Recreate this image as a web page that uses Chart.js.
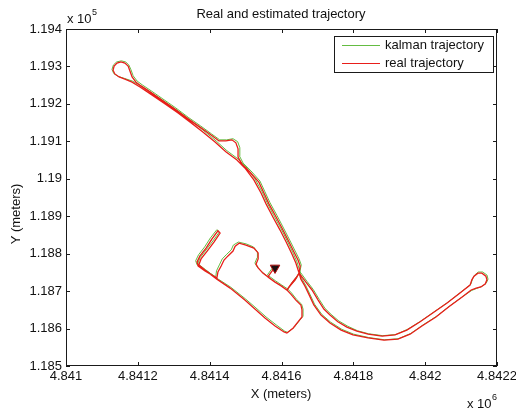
<!DOCTYPE html>
<html><head><meta charset="utf-8">
<script src="https://cdn.jsdelivr.net/npm/chart.js@4/dist/chart.umd.min.js"></script>
<style>html,body{margin:0;padding:0;background:#fff}#wrap{width:516px;height:410px;position:relative}</style>
</head><body><div id="wrap"><canvas id="c" width="516" height="410"></canvas></div>
<script>
// X in meters (axis shown x 10^6), Y in meters (axis shown x 10^5)
const xTicks=[4841000,4841200,4841400,4841600,4841800,4842000,4842200];
const yTicks=[118500,118600,118700,118800,118900,119000,119100,119200,119300,119400];

const realX=[4841582,4841574,4841562,4841548,4841535,4841529,4841535,4841535,4841523,4841501,4841482,4841471,4841465,4841451,4841440,4841432,4841423,4841420,
4841387,4841368,4841365,4841373,4841390,4841406,4841423,
4841429,4841412,4841393,4841376,4841370,4841390,4841420,
4841457,4841498,4841526,4841554,4841582,4841607,4841615,
4841632,4841646,4841657,4841657,4841654,4841640,4841626,4841615,
4841629,4841640,4841649,
4841652,4841646,4841635,4841621,4841604,4841585,4841565,4841551,4841537,4841512,4841490,4841479,4841479,4841473,4841462,4841445,4841426,4841404,4841373,4841340,4841303,4841267,4841234,4841209,
4841195,4841184,4841178,4841173,4841164,4841153,4841142,4841134,4841131,4841136,4841148,4841164,4841184,
4841206,4841239,4841276,4841312,4841345,4841381,4841415,4841445,4841476,4841498,4841523,4841543,4841557,4841576,4841596,4841613,4841629,4841640,4841649,
4841668,4841685,4841702,4841718,4841735,4841757,4841782,4841810,4841841,4841880,4841916,4841949,4841986,4842022,4842061,4842097,
4842125,4842130,4842136,4842147,4842158,4842169,4842172,4842167,4842155,4842142,4842128,
4842103,4842066,4842030,4841991,4841958,4841924,4841885,4841841,4841799,4841766,4841735,4841710,4841690,4841677,4841665,4841654,4841649,
4841638,4841624,4841615,
4841599,4841582,4841562];
const realY=[118767,118754,118738,118748,118762,118772,118786,118802,118815,118823,118828,118820,118807,118794,118783,118767,118751,118735,
118754,118767,118778,118794,118815,118839,118861,
118855,118831,118807,118786,118770,118754,118732,
118708,118676,118652,118628,118607,118591,118588,
118601,118618,118631,118650,118663,118676,118692,118703,
118722,118735,118748,
118767,118783,118804,118831,118863,118898,118933,118962,118991,119018,119039,119058,119080,119096,119104,119101,119101,119117,119138,119160,119186,119210,119232,119248,
119258,119272,119288,119301,119309,119312,119309,119301,119290,119280,119272,119266,119258,
119245,119224,119200,119176,119152,119125,119098,119072,119050,119029,118997,118962,118933,118898,118863,118831,118799,118775,118748,
118724,118703,118676,118652,118636,118618,118604,118593,118585,118580,118583,118596,118618,118642,118668,118695,
118716,118730,118740,118748,118748,118740,118730,118719,118711,118708,118703,
118684,118658,118631,118607,118585,118572,118569,118575,118583,118596,118615,118636,118663,118690,118714,118732,118748,
118730,118714,118703,
118714,118724,118738];

const kalmanX=[4841582,4841571,4841559,4841546,4841532,4841526,4841532,4841533,4841522,4841502,4841480,4841466,4841460,4841446,4841435,4841427,4841419,4841417,
4841386,4841365,4841361,4841369,4841386,4841402,4841420,
4841427,4841409,4841390,4841373,4841367,4841389,4841419,
4841458,4841500,4841529,4841557,4841585,4841609,4841617,
4841635,4841649,4841660,4841660,4841656,4841642,4841628,4841617,
4841631,4841642,4841651,
4841655,4841649,4841638,4841624,4841607,4841588,4841568,4841554,4841540,4841515,4841493,4841483,4841484,4841478,4841465,4841447,4841428,4841405,4841375,4841342,4841306,4841270,4841237,4841212,
4841198,4841187,4841181,4841175,4841166,4841154,4841141,4841132,4841128,4841133,4841146,4841163,4841185,
4841208,4841242,4841279,4841315,4841348,4841384,4841418,4841448,4841479,4841501,4841526,4841546,4841560,4841579,4841599,4841616,4841632,4841643,4841652,
4841671,4841688,4841705,4841721,4841738,4841760,4841785,4841812,4841843,4841882,4841918,4841951,4841988,4842024,4842063,4842099,
4842127,4842132,4842138,4842148,4842160,4842172,4842175,4842170,4842157,4842143,4842130,
4842105,4842068,4842032,4841993,4841960,4841926,4841887,4841843,4841801,4841768,4841737,4841712,4841692,4841679,4841667,4841656,4841651,
4841640,4841626,4841617,
4841601,4841584,4841564];
const kalmanY=[118769,118757,118741,118751,118765,118775,118789,118805,118818,118826,118831,118823,118810,118797,118786,118770,118754,118738,
118757,118770,118781,118797,118818,118842,118864,
118858,118834,118810,118789,118773,118757,118735,
118711,118679,118655,118631,118610,118593,118590,
118603,118620,118633,118652,118665,118678,118695,118706,
118725,118738,118751,
118770,118786,118807,118834,118866,118901,118936,118965,118994,119021,119042,119061,119083,119099,119107,119104,119104,119120,119141,119163,119189,119213,119235,119251,
119261,119275,119291,119304,119312,119315,119312,119304,119292,119281,119273,119268,119261,
119248,119227,119203,119179,119155,119128,119101,119075,119053,119032,119000,118965,118936,118901,118866,118834,118802,118778,118751,
118726,118705,118678,118654,118638,118620,118606,118594,118586,118581,118584,118598,118620,118644,118670,118697,
118718,118733,118743,118751,118751,118743,118732,118721,118712,118707,118702,
118686,118660,118633,118609,118587,118573,118570,118576,118585,118598,118617,118638,118665,118692,118716,118734,118751,
118732,118716,118706,
118716,118727,118741];

const startX=[4841582];
const startY=[118762];

const seriesNames=['kalman trajectory','real trajectory'];
const GREEN='rgb(100,188,66)', RED='rgb(232,30,26)';
const FONT='"Liberation Sans", Arial, Helvetica, sans-serif';

const pts=(xs,ys)=>xs.map((x,i)=>({x:x,y:ys[i]}));

const frame={
  id:'frame',
  afterDraw(chart){
    const ctx=chart.ctx, a=chart.chartArea, xs=chart.scales.x, ys=chart.scales.y;
    ctx.save();
    ctx.strokeStyle='#1a1a1a'; ctx.lineWidth=1;
    ctx.strokeRect(Math.round(a.left)+0.5,Math.round(a.top)+0.5,Math.round(a.right-a.left)-1,Math.round(a.bottom-a.top)-1);
    const L=4;
    ctx.beginPath();
    xTicks.forEach(v=>{const p=Math.round(xs.getPixelForValue(v))+0.5;
      ctx.moveTo(p,a.bottom);ctx.lineTo(p,a.bottom-L);ctx.moveTo(p,a.top);ctx.lineTo(p,a.top+L);});
    yTicks.forEach(v=>{const p=Math.round(ys.getPixelForValue(v))+0.5;
      ctx.moveTo(a.left,p);ctx.lineTo(a.left+L,p);ctx.moveTo(a.right,p);ctx.lineTo(a.right-L,p);});
    ctx.stroke();
    ctx.fillStyle='#111';
    ctx.font='13px '+FONT; ctx.textBaseline='middle'; ctx.textAlign='center';
    ctx.fillText('Real and estimated trajectory',281,14);
    ctx.fillText('X (meters)',281,394);
    ctx.save(); ctx.translate(16,214); ctx.rotate(-Math.PI/2); ctx.fillText('Y (meters)',0,0); ctx.restore();
    ctx.textAlign='left'; ctx.textBaseline='alphabetic';
    ctx.fillText('x 10',67,23);
    ctx.fillText('x 10',467,408);
    ctx.font='9px '+FONT;
    ctx.fillText('5',92,15);
    ctx.fillText('6',492,400);
    // legend
    const bx=334, by=36, bw=159, bh=36;
    ctx.fillStyle='#fff'; ctx.fillRect(bx,by,bw,bh);
    ctx.strokeStyle='#1a1a1a'; ctx.strokeRect(bx+0.5,by+0.5,bw,bh);
    ctx.lineWidth=1;
    ctx.strokeStyle=GREEN; ctx.beginPath(); ctx.moveTo(342,45.5); ctx.lineTo(380,45.5); ctx.stroke();
    ctx.strokeStyle=RED; ctx.beginPath(); ctx.moveTo(342,63.5); ctx.lineTo(380,63.5); ctx.stroke();
    ctx.fillStyle='#111'; ctx.font='13px '+FONT; ctx.textBaseline='middle';
    ctx.fillText(seriesNames[0],385,45);
    ctx.fillText(seriesNames[1],385,63);
    ctx.restore();
  }
};

new Chart(document.getElementById('c'),{
  type:'scatter',
  data:{datasets:[
    {label:'start',data:pts(startX,startY),showLine:false,pointStyle:'triangle',rotation:180,pointRadius:5.5,
     backgroundColor:'#1c1010',borderColor:'#b01010',borderWidth:1,order:0},
    {label:seriesNames[1],data:pts(realX,realY),showLine:true,borderColor:RED,borderWidth:1.3,pointRadius:0,fill:false,tension:0,order:1},
    {label:seriesNames[0],data:pts(kalmanX,kalmanY),showLine:true,borderColor:GREEN,borderWidth:1,pointRadius:0,fill:false,tension:0,order:2}
  ]},
  options:{
    responsive:false,animation:false,devicePixelRatio:1,
    layout:{padding:{top:29,right:19,left:0,bottom:0}},
    plugins:{legend:{display:false},title:{display:false},tooltip:{enabled:false}},
    scales:{
      x:{type:'linear',min:4841000,max:4842200,
        afterBuildTicks:s=>{s.ticks=xTicks.map(v=>({value:v}));},
        afterFit:s=>{s.height=44;s.paddingLeft=0;s.paddingRight=0;},
        grid:{display:false,drawTicks:false},border:{display:false},
        ticks:{padding:3,color:'#111',font:{family:FONT,size:13},maxRotation:0,autoSkip:false,
          callback:v=>String(parseFloat((v/1e6).toFixed(4)))}},
      y:{type:'linear',min:118500,max:119400,
        afterBuildTicks:s=>{s.ticks=yTicks.map(v=>({value:v}));},
        afterFit:s=>{s.width=66;s.paddingTop=0;s.paddingBottom=0;},
        grid:{display:false,drawTicks:false},border:{display:false},
        ticks:{padding:4,color:'#111',font:{family:FONT,size:13},autoSkip:false,
          callback:v=>String(parseFloat((v/1e5).toFixed(3)))}}
    }
  },
  plugins:[frame]
});
</script></body></html>
